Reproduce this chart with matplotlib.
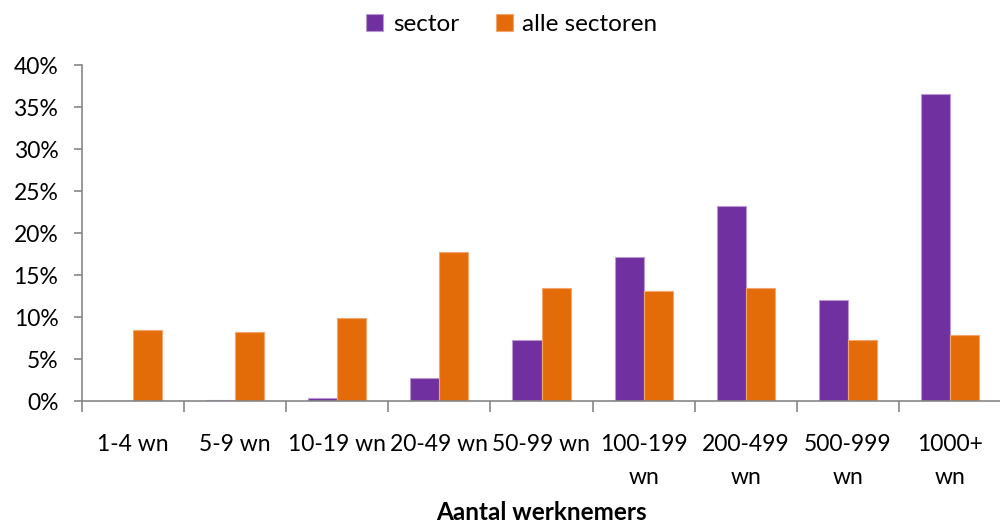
import matplotlib
matplotlib.use("Agg")
import matplotlib.pyplot as plt
import numpy as np
from matplotlib.ticker import FuncFormatter, FixedLocator

categories = ["1-4 wn", "5-9 wn", "10-19 wn", "20-49 wn", "50-99 wn",
              "100-199\nwn", "200-499\nwn", "500-999\nwn", "1000+\nwn"]
sector = [0.0, 0.1, 0.3, 2.7, 7.3, 17.2, 23.2, 12.0, 36.6]
alle_sectoren = [8.4, 8.2, 9.9, 17.7, 13.5, 13.05, 13.4, 7.3, 7.9]
series_names = ["sector", "alle sectoren"]
yticks = [0, 5, 10, 15, 20, 25, 30, 35, 40]

plt.rcParams['font.family'] = ['Lato', 'DejaVu Sans']

purple = "#7030A0"
orange = "#E36C09"

fig = plt.figure(figsize=(10, 5.24), dpi=100)
ax = fig.add_axes([0.082, 0.2347, 0.919, 0.641])

x = np.arange(len(categories))
w = 0.285
ax.bar(x - w/2, sector, width=w, color=purple, edgecolor="#B99AD0", linewidth=0.8, label=series_names[0])
ax.bar(x + w/2, alle_sectoren, width=w, color=orange, edgecolor="#F2A66E", linewidth=0.8, label=series_names[1])

ax.set_xlim(-0.5, len(categories) - 0.5)
ax.set_ylim(0, 40)
ax.set_yticks(yticks)
ax.yaxis.set_major_formatter(FuncFormatter(lambda v, p: f"{int(v)}%"))

ax.xaxis.set_major_locator(FixedLocator(np.arange(-0.5, len(categories), 1.0)))
ax.xaxis.set_minor_locator(FixedLocator(x))
ax.set_xticklabels([], minor=False)
ax.set_xticks(x, minor=True)
ax.set_xticklabels(categories, minor=True, fontsize=16.5, linespacing=1.7, va='top')
ax.tick_params(axis='x', which='major', length=8, width=1.2, color="#868686", direction='out')
ax.tick_params(axis='x', which='minor', length=0, pad=24)
ax.tick_params(axis='y', length=6, width=1.2, color="#868686", labelsize=16.5, pad=11)

for s in ["top", "right"]:
    ax.spines[s].set_visible(False)
for s in ["left", "bottom"]:
    ax.spines[s].set_color("#868686")
    ax.spines[s].set_linewidth(1.2)

ax.set_xlabel("Aantal werknemers", fontsize=17.5, fontweight='bold', labelpad=9)

fig.legend(loc='upper center', bbox_to_anchor=(0.512, 1.015), ncol=2, frameon=False,
           fontsize=17.5, handlelength=0.7, handleheight=0.7, handletextpad=0.4,
           columnspacing=1.5)

fig.savefig("out.png", dpi=100)
